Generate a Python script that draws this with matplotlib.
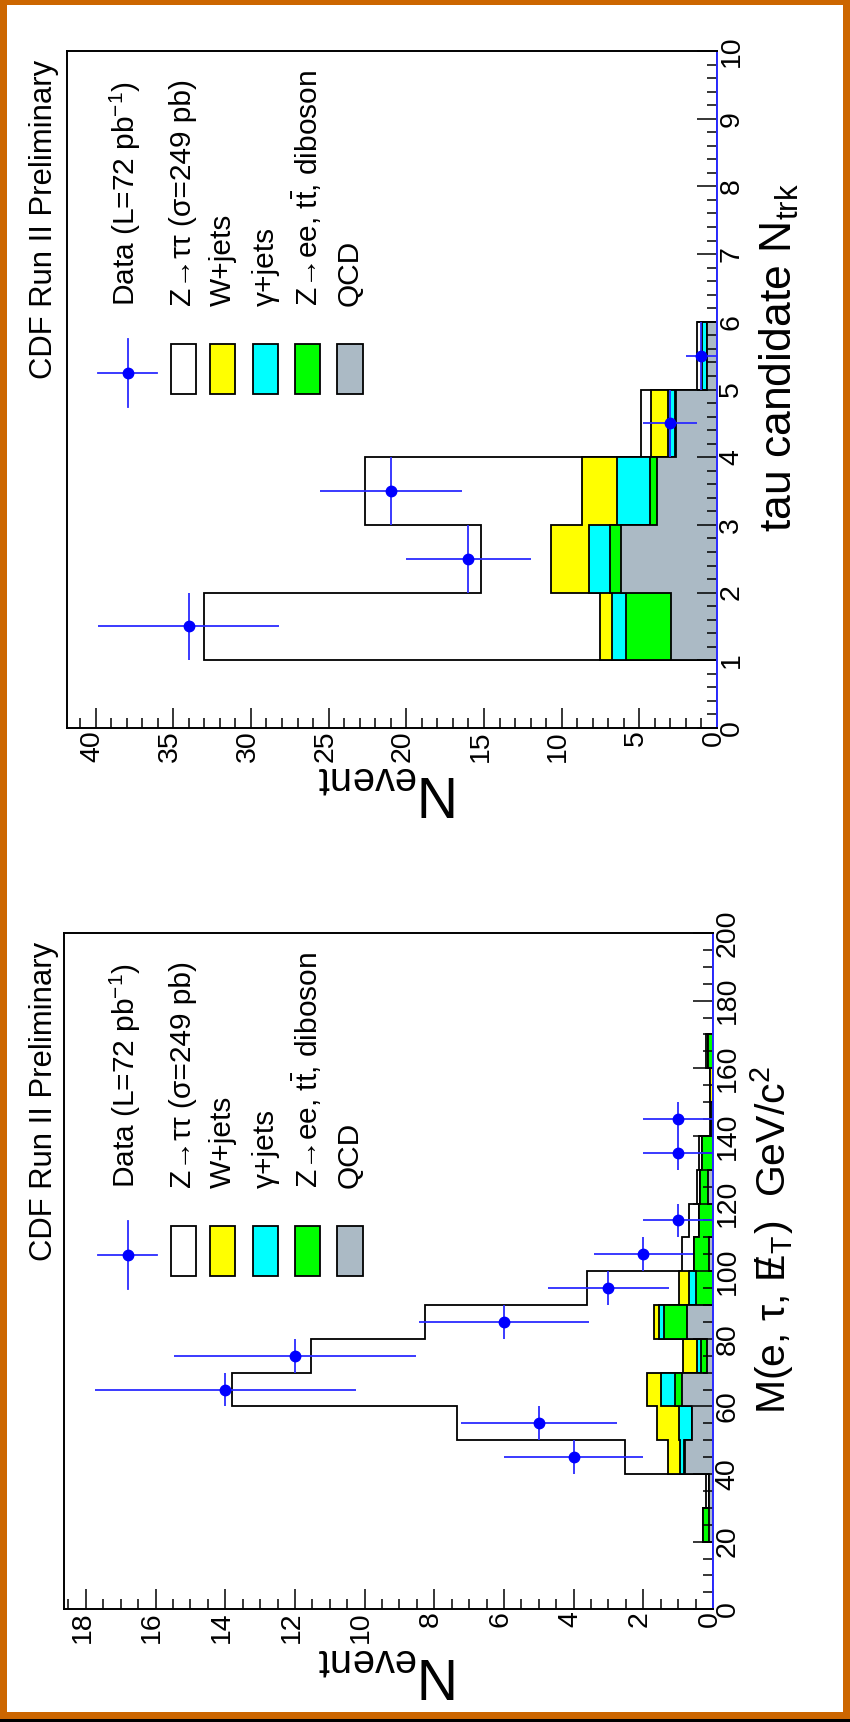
import numpy as np
import matplotlib
matplotlib.use("Agg")
import matplotlib.pyplot as plt
from matplotlib.patches import Rectangle
from matplotlib.lines import Line2D
from matplotlib.ticker import MultipleLocator, FormatStrFormatter
from matplotlib.transforms import ScaledTranslation

plt.rcParams['font.family'] = ['Liberation Sans', 'DejaVu Sans']
plt.rcParams['mathtext.fontset'] = 'custom'
plt.rcParams['mathtext.rm'] = 'Liberation Sans'
plt.rcParams['mathtext.it'] = 'Liberation Sans:italic'
plt.rcParams['mathtext.bf'] = 'Liberation Sans:bold'
plt.rcParams['mathtext.sf'] = 'Liberation Sans'

# ---------------------------------------------------------------- data
# tau candidate track multiplicity (bins of width 1 from 0 to 10)
ntrk_edges = np.arange(0, 11, 1)
ntrk_qcd   = [0, 2.95, 6.21, 3.87, 2.62, 0.65, 0, 0, 0, 0]
ntrk_zee   = [0, 2.91, 0.66, 0.43, 0.10, 0.00, 0, 0, 0, 0]
ntrk_gjets = [0, 0.91, 1.37, 2.12, 0.44, 0.30, 0, 0, 0, 0]
ntrk_wjets = [0, 0.79, 2.47, 2.25, 1.12, 0.03, 0, 0, 0, 0]
ntrk_ztt   = [0, 25.44, 4.48, 14.01, 0.59, 0.32, 0, 0, 0, 0]
ntrk_data_x = [1.5, 2.5, 3.5, 4.5, 5.5]
ntrk_data_n = [34, 16, 21, 3, 1]

# visible mass M(e, tau, MET) (bins of 10 GeV/c^2 from 0 to 200)
mass_edges = np.arange(0, 201, 10)
mass_qcd   = [0, 0, 0.12, 0.12, 0.80, 0.61, 0.90, 0.17, 0.75, 0.00,
              0.12, 0, 0.14, 0, 0, 0, 0, 0, 0, 0]
mass_zee   = [0, 0, 0.16, 0.00, 0.02, 0.00, 0.20, 0.18, 0.65, 0.49,
              0.42, 0.39, 0.23, 0.32, 0.05, 0, 0.14, 0, 0, 0]
mass_gjets = [0, 0, 0, 0, 0.12, 0.37, 0.38, 0.12, 0.15, 0.19,
              0, 0, 0, 0, 0, 0, 0, 0, 0, 0]
mass_wjets = [0, 0, 0, 0, 0.34, 0.62, 0.41, 0.40, 0.15, 0.30,
              0, 0, 0, 0, 0, 0.08, 0, 0, 0, 0]
mass_ztt   = [0, 0, 0, 0.08, 1.26, 5.75, 11.91, 10.68, 6.58, 2.65,
              0.36, 0.29, 0.08, 0.08, 0.03, 0, 0.06, 0, 0, 0]
mass_data_x = [45, 55, 65, 75, 85, 95, 105, 115, 135, 145]
mass_data_n = [4, 5, 14, 12, 6, 3, 2, 1, 1, 1]

legend_labels = [
    "Data (L=72 pb$^{-1}$)",
    "Z\u2192\u03c4\u03c4 (\u03c3=249 pb)",
    "W+jets",
    "\u03b3+jets",
    "Z\u2192ee, t$\\bar{\\mathrm{t}}$, diboson",
    "QCD",
]

# ---------------------------------------------------------------- style
W, H, DPI = 850, 1722, 100
PT = 72.0 / DPI                       # points per pixel
ORANGE = '#cc6600'
BLUE = '#0000ff'
EBLUE = '#2b2bff'
GRAY = '#abbac5'
LAYER_COLORS = [GRAY, '#00ff00', '#00ffff', '#ffff00', 'white']   # bottom -> top
TICK_FS = 20.5
LEG_FS = 21.5
TITLE_FS = 22.3
YTITLE_FS = 41

fig = plt.figure(figsize=(W / DPI, H / DPI), dpi=DPI)
fig.patch.set_facecolor('white')


def add_px_axes(left, top, right, bottom):
    return fig.add_axes([left / W, 1 - bottom / H, (right - left) / W, (bottom - top) / H])


def draw_panel(ax, edges, layers, data_x, data_n, n_major, n_minor, x_major, x_minor):
    # stacked histograms: outermost cumulative sum drawn first
    running = np.zeros(len(edges) - 1)
    tops = []
    for vals in layers:
        running = running + np.asarray(vals, float)
        tops.append(running.copy())
    for top, color in zip(reversed(tops), reversed(LAYER_COLORS)):
        ax.stairs(top, edges, orientation='horizontal', baseline=0, fill=True,
                  facecolor=color, edgecolor='black', linewidth=1.3, zorder=1)

    n = np.asarray(data_n, float)
    half = 0.5 * (edges[1] - edges[0])
    ax.errorbar(n, data_x, xerr=np.sqrt(n), yerr=half, fmt='o', ms=7.5,
                mfc=BLUE, mec=BLUE, ecolor=EBLUE, elinewidth=1.3, capsize=0, zorder=5)

    nmax = 1.05 * np.max(n + np.sqrt(n))
    ax.set_xlim(nmax, 0)
    ax.set_ylim(edges[0], edges[-1])

    ax.xaxis.set_major_locator(MultipleLocator(n_major))
    ax.xaxis.set_minor_locator(MultipleLocator(n_minor))
    ax.yaxis.set_major_locator(MultipleLocator(x_major))
    ax.yaxis.set_minor_locator(MultipleLocator(x_minor))
    ax.xaxis.set_major_formatter(FormatStrFormatter('%g'))
    ax.yaxis.set_major_formatter(FormatStrFormatter('%g'))
    ax.yaxis.tick_right()
    ax.tick_params(which='both', direction='in', color='black', width=1.1, labelsize=TICK_FS)
    ax.tick_params(which='major', length=20 * PT)
    ax.tick_params(which='minor', length=10 * PT)
    ax.tick_params(axis='x', labelrotation=90, pad=1.5)
    ax.tick_params(axis='y', labelrotation=90, pad=1)
    for lab in ax.get_yticklabels():
        lab.set_verticalalignment('center')

    for side in ('left', 'top', 'bottom'):
        ax.spines[side].set_linewidth(1.4)
        ax.spines[side].set_color('black')
    ax.spines['right'].set_linewidth(1.4)
    ax.spines['right'].set_color('#2a2aff')
    ax.set_facecolor('white')


ax_ntrk = add_px_axes(67.3, 51, 717, 728)
draw_panel(ax_ntrk, ntrk_edges,
           [ntrk_qcd, ntrk_zee, ntrk_gjets, ntrk_wjets, ntrk_ztt],
           ntrk_data_x, ntrk_data_n, 5, 1, 1, 0.2)

ax_mass = add_px_axes(64, 933, 713, 1609.3)
draw_panel(ax_mass, mass_edges,
           [mass_qcd, mass_zee, mass_gjets, mass_wjets, mass_ztt],
           mass_data_x, mass_data_n, 2, 0.5, 20, 5)

# nudge the event-count labels a little to the left of their ticks
fig.canvas.draw()
nudge = ScaledTranslation(-3.5 / DPI, 0, fig.dpi_scale_trans)
for ax in (ax_ntrk, ax_mass):
    for lab in ax.get_xticklabels():
        lab.set_transform(lab.get_transform() + nudge)

# ---------------------------------------------------------------- page overlay (pixel coordinates)
ov = fig.add_axes([0, 0, 1, 1], zorder=10)
ov.set_xlim(0, W)
ov.set_ylim(H, 0)
ov.axis('off')
ov.patch.set_alpha(0)

# frame around the page
for (x0, y0, w, h, c) in [(0, 0, W, 5, ORANGE), (0, 0, 7, 1719, ORANGE),
                          (843, 0, 7, 1719, ORANGE), (0, 1712, W, 7, ORANGE),
                          (0, 1719, W, 3, 'black')]:
    ov.add_patch(Rectangle((x0, y0), w, h, facecolor=c, edgecolor='none'))


def draw_decorations(dy, xtitle, xtitle_pos, xtitle_fs):
    ov.text(44, 60 + dy, "CDF Run II Preliminary", rotation=90, ha='center', va='top',
            fontsize=TITLE_FS)
    # legend: data marker
    cx, cy = 128.5, 373 + dy
    ov.add_line(Line2D([97.6, 157], [cy, cy], color=EBLUE, lw=1.3))
    ov.add_line(Line2D([cx, cx], [339 + dy, 406.5 + dy], color=EBLUE, lw=1.3))
    ov.plot([cx], [cy], 'o', ms=7.5, color=BLUE)
    # legend: filled boxes
    box_x = [183.5, 222.5, 265.5, 307.5, 350]
    for bx, col in zip(box_x, reversed(LAYER_COLORS)):
        ov.add_patch(Rectangle((bx - 12.75, 344 + dy), 25.5, 50, facecolor=col,
                               edgecolor='black', lw=1.3))
    for tx, lab in zip([125.7] + box_x, legend_labels):
        ov.text(tx, 306 + dy, lab, rotation=90, ha='center', va='bottom', fontsize=LEG_FS)
    ov.text(xtitle_pos[0], xtitle_pos[1] + dy, xtitle, rotation=90, ha='center',
            va='center', fontsize=xtitle_fs)
    ov.text(388, 791 + dy, "N$_{\\mathrm{event}}$", rotation=180, ha='center',
            va='center', fontsize=YTITLE_FS)


draw_decorations(0, "tau candidate N$_{\\mathrm{trk}}$", (779, 358), 32)
draw_decorations(882, "M(e, \u03c4, $\\mathrm{E}_{\\mathrm{T}}\\!\\!\\!\\!\\!\\!/\\;\\;\\,$)  GeV/c$^{2}$",
                 (772, 358), 29.5)

fig.savefig("out.png", dpi=DPI, facecolor='white')
